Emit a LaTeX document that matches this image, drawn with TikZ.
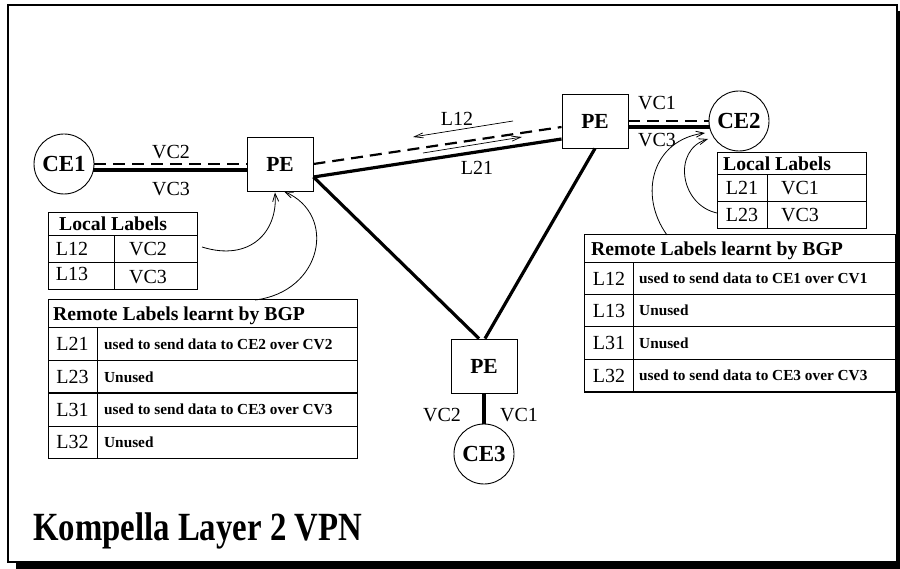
\documentclass[tikz,border=0pt]{standalone}
\usepackage{fontspec}
\setmainfont{Liberation Serif}
\usetikzlibrary{arrows.meta,calc}
\begin{document}
\begin{tikzpicture}[x=1pt,y=-1pt,
  ce/.style={draw,circle,minimum size=60pt,inner sep=0pt,line width=0.9pt,font=\fontsize{23}{25}\selectfont\bfseries},
  pe/.style={draw,rectangle,minimum width=66pt,minimum height=54pt,inner sep=0pt,line width=0.9pt,font=\fontsize{21.5}{23}\selectfont\bfseries},
  solidlink/.style={line width=3.2pt},
  dashlink/.style={line width=2.2pt,dash pattern=on 12pt off 7pt},
  lbl/.style={font=\fontsize{20}{22}\selectfont,inner sep=0pt},
  hdr/.style={font=\fontsize{19.7}{21}\selectfont\bfseries,inner sep=0pt,anchor=base west},
  cell/.style={font=\fontsize{20}{22}\selectfont,inner sep=0pt,anchor=base},
  small/.style={font=\fontsize{15.3}{17}\selectfont\bfseries,inner sep=0pt,anchor=base west},
  tbl/.style={line width=1pt},
  curvearrow/.style={line width=0.8pt,-{Straight Barb[length=8pt,width=6pt]}},
  labarrow/.style={line width=0.7pt,-{Straight Barb[length=9pt,width=5pt]}}
]
\useasboundingbox (0,0) rectangle (900,569);
% frame with shadow
\fill[black] (16,11) rectangle (900,569);
\filldraw[fill=white,draw=black,line width=2pt] (8,5) rectangle (897,562);

% nodes
\node[ce] (ce1) at (64,164) {CE1};
\node[pe] (peL) at (280,164) {PE};
\node[pe] (peR) at (595,121) {PE};
\node[ce] (ce2) at (739,121) {CE2};
\node[pe] (peB) at (484,366) {PE};
\node[ce] (ce3) at (484,454) {CE3};

% links CE1 - PE
\draw[dashlink] (ce1.east) -- (peL.west);
\draw[solidlink] ($(ce1.center)+(29.4,6)$) -- ($(peL.west)+(0,6)$);
% links PE - CE2
\draw[dashlink] (peR.east) -- (ce2.west);
\draw[solidlink] ($(peR.east)+(0,6)$) -- ($(ce2.center)+(-29.4,6)$);
% core links
\draw[dashlink] (peL.east) -- ($(peR.west)+(0,6)$);
\draw[solidlink] ($(peL.east)+(0,13)$) -- ($(peR.west)+(0,18)$);
\draw[solidlink] ($(peL.east)+(0,13)$) -- ($(peB.north)+(-5,0)$);
\draw[solidlink] (peR.south) -- ($(peB.north)+(1,0)$);
\draw[solidlink] (peB.south) -- (ce3.north);

% link labels
\node[lbl] (vc2a) at (171,152) {VC2};
\node[lbl] (vc3a) at (171,189) {VC3};
\node[lbl] (vc1b) at (657,103) {VC1};
\node[lbl] (vc3b) at (657,140) {VC3};
\node[lbl] (vc2c) at (442,415) {VC2};
\node[lbl] (vc1c) at (519,415) {VC1};
\node[lbl] (l12) at (457,119) {L12};
\node[lbl] (l21) at (477,168) {L21};
\coordinate (l12s) at (513,121);
\coordinate (l12e) at (413,137);
\coordinate (l21s) at (423,153);
\coordinate (l21e) at (522,137);
\draw[labarrow] (l12s) -- (l12e);
\draw[labarrow] (l21s) -- (l21e);

% left local table
\draw[tbl] (48,213) rectangle (197,290);
\draw[tbl] (48,236) -- (197,236) (48,263) -- (197,263) (114,236) -- (114,290);
\node[hdr] (llh) at (59,231) {Local Labels};
\node[cell] (ll1a) at (72,256) {L12};
\node[cell] (ll1b) at (148,256) {VC2};
\node[cell] (ll2a) at (72,281) {L13};
\node[cell] (ll2b) at (148,284) {VC3};

% left remote table
\draw[tbl] (48,300) rectangle (357,458);
\draw[tbl] (48,328) -- (357,328) (48,361) -- (357,361) (48,393) -- (357,393) (48,426) -- (357,426) (97,328) -- (97,458);
\node[hdr] (lrh) at (53,320.5) {Remote Labels learnt by BGP};
\node[cell] (lr1a) at (72.5,351) {L21};
\node[small] (lr1b) at (104,349.5) {used to send data to CE2 over CV2};
\node[cell] (lr2a) at (72.5,383.5) {L23};
\node[small] (lr2b) at (104,382) {Unused};
\node[cell] (lr3a) at (72.5,416) {L31};
\node[small] (lr3b) at (104,414.5) {used to send data to CE3 over CV3};
\node[cell] (lr4a) at (72.5,448.5) {L32};
\node[small] (lr4b) at (104,447) {Unused};

% right local table
\draw[tbl] (717,153) rectangle (866,229);
\draw[tbl] (717,175) -- (866,175) (717,202) -- (866,202) (767,175) -- (767,229);
\node[hdr] (rlh) at (723,170.5) {Local Labels};
\node[cell] (rl1a) at (742,195) {L21};
\node[cell] (rl1b) at (800,195) {VC1};
\node[cell] (rl2a) at (742,222) {L23};
\node[cell] (rl2b) at (800,222) {VC3};

% right remote table
\draw[tbl] (584,235) rectangle (895,392);
\draw[tbl] (584,263) -- (895,263) (584,295) -- (895,295) (584,327) -- (895,327) (584,360) -- (895,360) (633,263) -- (633,392);
\node[hdr] (rrh) at (591,255.5) {Remote Labels learnt by BGP};
\node[cell] (rr1a) at (609,285.5) {L12};
\node[small] (rr1b) at (639,284) {used to send data to CE1 over CV1};
\node[cell] (rr2a) at (609,317.5) {L13};
\node[small] (rr2b) at (639,316) {Unused};
\node[cell] (rr3a) at (609,350) {L31};
\node[small] (rr3b) at (639,348.5) {Unused};
\node[cell] (rr4a) at (609,382.5) {L32};
\node[small] (rr4b) at (639,381) {used to send data to CE3 over CV3};

% curved arrows
\coordinate (a1s) at (202,247);
\coordinate (a2s) at (255,300);
\coordinate (a3s) at (717,213);
\coordinate (a4s) at (667,235);
\coordinate (a3e) at (708,139);
\coordinate (a4e) at (705,133);
\draw[curvearrow] (a1s) .. controls (250,262) and (278,232) .. ($(peL.south)+(-5,1)$);
\draw[curvearrow] (a2s) .. controls (322,292) and (338,215) .. ($(peL.south)+(4,0)$);
\draw[curvearrow] (a3s) .. controls (680,205) and (672,150) .. (a3e);
\draw[curvearrow] (a4s) .. controls (638,195) and (652,140) .. (a4e);

% title
\node[anchor=base west,inner sep=0pt,font=\fontsize{40}{44}\selectfont\bfseries] (title) at (33,540) {\scalebox{0.82}[1]{Kompella Layer 2 VPN}};
\end{tikzpicture}
\end{document}
